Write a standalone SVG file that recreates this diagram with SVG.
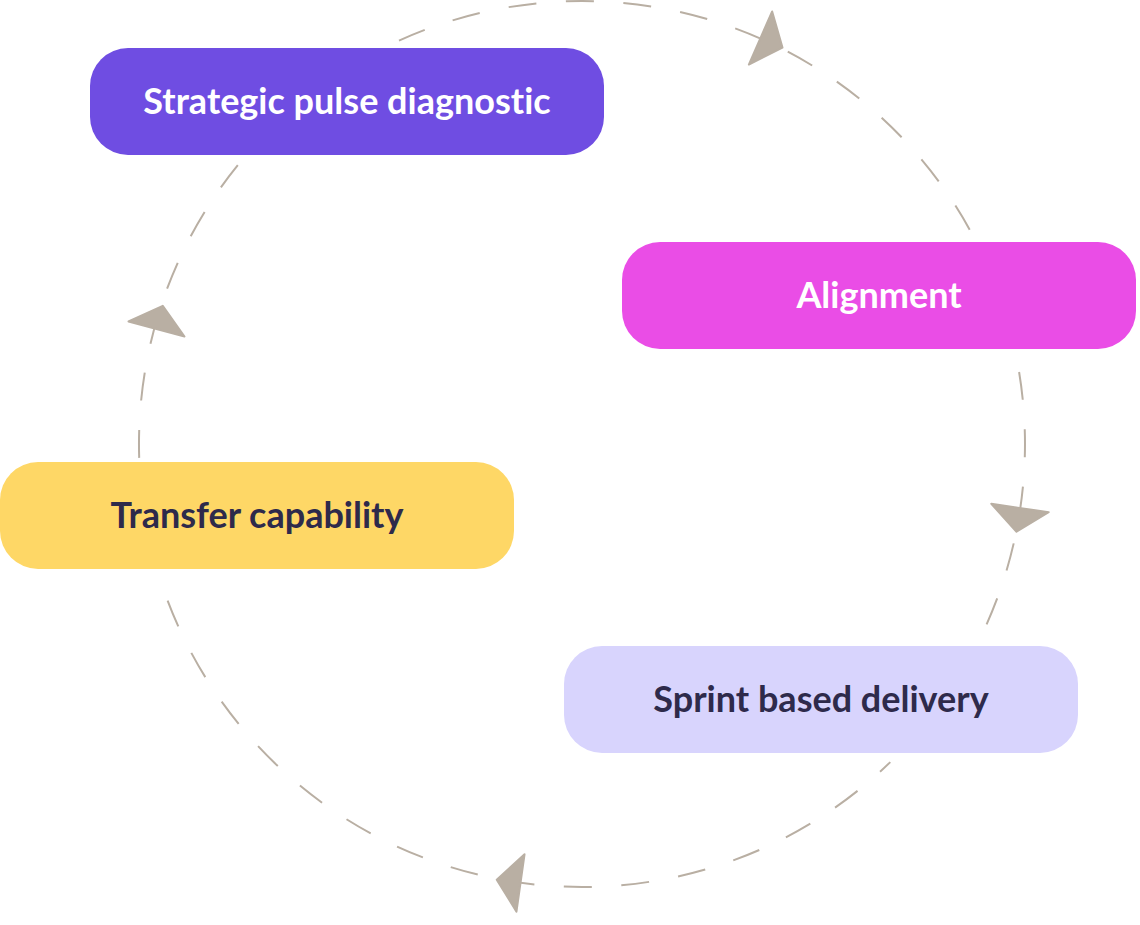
<svg xmlns="http://www.w3.org/2000/svg" width="1140" height="925" viewBox="0 0 1140 925">
  <defs>
    <style>
      .ring { fill: none; stroke: #B9AFA3; stroke-width: 2; stroke-dasharray: 28 29.5; }
      .arrow { fill: #B9AFA3; stroke: #B9AFA3; stroke-width: 2; stroke-linejoin: round; }
      .label { font-family: "Lato", "Liberation Sans", sans-serif; font-weight: 700; font-size: 36px; text-anchor: middle; font-variant-ligatures: none; }
      .light { fill: #FFFFFF; }
      .dark { fill: #2E2A4B; }
    </style>
    <path id="arrowhead" class="arrow" d="M0,-29 L24,0 L0,29 Z"/>
  </defs>
  <rect width="1140" height="925" fill="#FFFFFF"/>
  <g id="connectors">
    <path class="ring" d="M399,40.6 A443,443 0 0 1 972.4,234.6"/>
    <path class="ring" d="M1019.1,372 A443,443 0 0 1 985.1,627.7"/>
    <path class="ring" d="M167.6,600.6 A443,443 0 0 0 890.3,762.1"/>
    <path class="ring" d="M139.2,457.9 A443,443 0 0 1 238.2,164.6"/>
    <use href="#arrowhead" transform="translate(760.5,38) rotate(23.7)"/>
    <use href="#arrowhead" transform="translate(1020,508) rotate(98.3)"/>
    <use href="#arrowhead" transform="translate(520.5,883) rotate(188)"/>
    <use href="#arrowhead" transform="translate(156.5,329) rotate(285.1)"/>
  </g>
  <g id="node-strategic">
    <rect x="90" y="48" width="514" height="107" rx="38" fill="#6F4DE2"/>
    <text class="label light" x="347" y="114">Strategic pulse diagnostic</text>
  </g>
  <g id="node-alignment">
    <rect x="622" y="242" width="514" height="107" rx="38" fill="#EA4DE6"/>
    <text class="label light" x="879" y="308">Alignment</text>
  </g>
  <g id="node-transfer">
    <rect x="0" y="462" width="514" height="107" rx="38" fill="#FED766"/>
    <text class="label dark" x="257" y="528">Transfer capability</text>
  </g>
  <g id="node-sprint">
    <rect x="564" y="646" width="514" height="107" rx="38" fill="#D8D4FD"/>
    <text class="label dark" x="821" y="712">Sprint based delivery</text>
  </g>
</svg>
